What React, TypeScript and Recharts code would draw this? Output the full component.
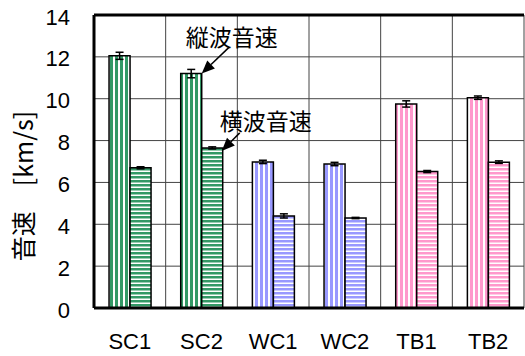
import React from "react";
import {
  BarChart,
  Bar,
  XAxis,
  YAxis,
  CartesianGrid,
  Cell,
  ErrorBar,
  LabelList,
  ReferenceLine,
} from "recharts";

// 試料ごとの音速 [km/s]
const samples = ["SC1", "SC2", "WC1", "WC2", "TB1", "TB2"];
const longitudinal = [12.05, 11.2, 6.98, 6.88, 9.75, 10.05];
const longitudinalErr = [0.17, 0.2, 0.08, 0.08, 0.15, 0.08];
const transverse = [6.7, 7.65, 4.4, 4.3, 6.52, 6.97];
const transverseErr = [0.05, 0.05, 0.1, 0.03, 0.05, 0.06];
const groups = ["green", "green", "blue", "blue", "pink", "pink"];
const yTicks = [0, 2, 4, 6, 8, 10, 12, 14];

const palette: Record<string, string> = {
  green: "#339966",
  blue: "#9999ff",
  pink: "#ff99cc",
};

const data = samples.map((name, i) => ({
  name,
  vl: longitudinal[i],
  vlErr: longitudinalErr[i],
  vt: transverse[i],
  vtErr: transverseErr[i],
}));

const latin = "'Liberation Sans', Arial, sans-serif";
const cjk = "'Noto Sans CJK JP', 'Liberation Sans', sans-serif";

function Arrow({ fx, fy, tx, ty }: { fx: number; fy: number; tx: number; ty: number }) {
  const ang = Math.atan2(ty - fy, tx - fx);
  const len = 13;
  const half = 5.5;
  const bx = tx - len * Math.cos(ang);
  const by = ty - len * Math.sin(ang);
  const px = -Math.sin(ang) * half;
  const py = Math.cos(ang) * half;
  return (
    <g>
      <line x1={fx} y1={fy} x2={bx} y2={by} stroke="#000" strokeWidth={1.5} />
      <polygon points={`${tx},${ty} ${bx + px},${by + py} ${bx - px},${by - py}`} fill="#000" />
    </g>
  );
}

// SC2 の棒に吹き出しを付ける
const calloutLongitudinal = (props: any) => {
  if (props.index !== 1) return null;
  const tx = props.x + props.width;
  const ty = props.y;
  return (
    <g>
      <text x={tx - 16} y={ty - 38} fontSize={23} fontFamily={cjk} dominantBaseline="central" fill="#000">
        縦波音速
      </text>
      <Arrow fx={tx + 27} fy={ty - 26} tx={tx} ty={ty} />
    </g>
  );
};

const calloutTransverse = (props: any) => {
  if (props.index !== 1) return null;
  const tx = props.x + props.width - 1;
  const ty = props.y + 3;
  return (
    <g>
      <text x={tx - 2} y={ty - 31} fontSize={23} fontFamily={cjk} dominantBaseline="central" fill="#000">
        横波音速
      </text>
      <Arrow fx={tx + 18} fy={ty - 18} tx={tx} ty={ty} />
    </g>
  );
};

const XTick = ({ x, y, payload }: any) => (
  <text x={x} y={y + 33} textAnchor="middle" dominantBaseline="central" fontSize={22} fontFamily={latin} fill="#000">
    {payload.value}
  </text>
);

const YTick = ({ x, y, payload }: any) => (
  <text x={x - 24} y={y + 2} textAnchor="end" dominantBaseline="central" fontSize={22} fontFamily={latin} fill="#000">
    {payload.value}
  </text>
);

const YTitle = () => (
  <text
    x={22}
    y={186}
    transform="rotate(-90 22 186)"
    textAnchor="middle"
    dominantBaseline="central"
    fontSize={25}
    fontFamily={cjk}
    fill="#000"
  >
    音速　[km/s]
  </text>
);

export default function App() {
  return (
    <div style={{ position: "absolute", left: 0, top: 0, background: "#fff" }}>
      <BarChart
        width={525}
        height={356}
        data={data}
        margin={{ top: 15, right: 1, bottom: 0, left: 0 }}
        barCategoryGap="21%"
        barGap={0}
      >
        <defs>
          {Object.keys(palette).map((k) => (
            <React.Fragment key={k}>
              <pattern id={`v-${k}`} width={5} height={5} patternUnits="userSpaceOnUse">
                <rect width={5} height={5} fill="#fff" />
                <rect width={3} height={5} fill={palette[k]} />
              </pattern>
              <pattern id={`h-${k}`} width={4} height={4} patternUnits="userSpaceOnUse">
                <rect width={4} height={4} fill="#fff" />
                <rect width={4} height={2.5} fill={palette[k]} />
              </pattern>
            </React.Fragment>
          ))}
        </defs>
        <CartesianGrid
          stroke="#444"
          strokeWidth={1}
          verticalCoordinatesGenerator={({ offset }: any) =>
            [1, 2, 3, 4, 5, 6].map((i) => offset.left + (i * offset.width) / 6)
          }
        />
        <XAxis
          dataKey="name"
          height={48}
          tickSize={0}
          tickMargin={0}
          tickLine={false}
          axisLine={{ stroke: "#000", strokeWidth: 3 }}
          tick={<XTick />}
        />
        <YAxis
          width={94}
          domain={[0, 14]}
          ticks={yTicks}
          tickSize={0}
          tickMargin={0}
          tickLine={false}
          axisLine={{ stroke: "#000", strokeWidth: 3 }}
          tick={<YTick />}
          label={{ content: <YTitle /> }}
        />
        <ReferenceLine y={14} stroke="#000" strokeWidth={3} ifOverflow="visible" />
        <Bar dataKey="vl" stroke="#000" strokeWidth={1.5} isAnimationActive={false}>
          {data.map((d, i) => (
            <Cell key={d.name} fill={`url(#v-${groups[i]})`} />
          ))}
          <ErrorBar dataKey="vlErr" width={4} stroke="#000" strokeWidth={1.5} direction="y" />
          <LabelList dataKey="vl" content={calloutLongitudinal} />
        </Bar>
        <Bar dataKey="vt" stroke="#000" strokeWidth={1.5} isAnimationActive={false}>
          {data.map((d, i) => (
            <Cell key={d.name} fill={`url(#h-${groups[i]})`} />
          ))}
          <ErrorBar dataKey="vtErr" width={4} stroke="#000" strokeWidth={1.5} direction="y" />
          <LabelList dataKey="vt" content={calloutTransverse} />
        </Bar>
      </BarChart>
    </div>
  );
}
